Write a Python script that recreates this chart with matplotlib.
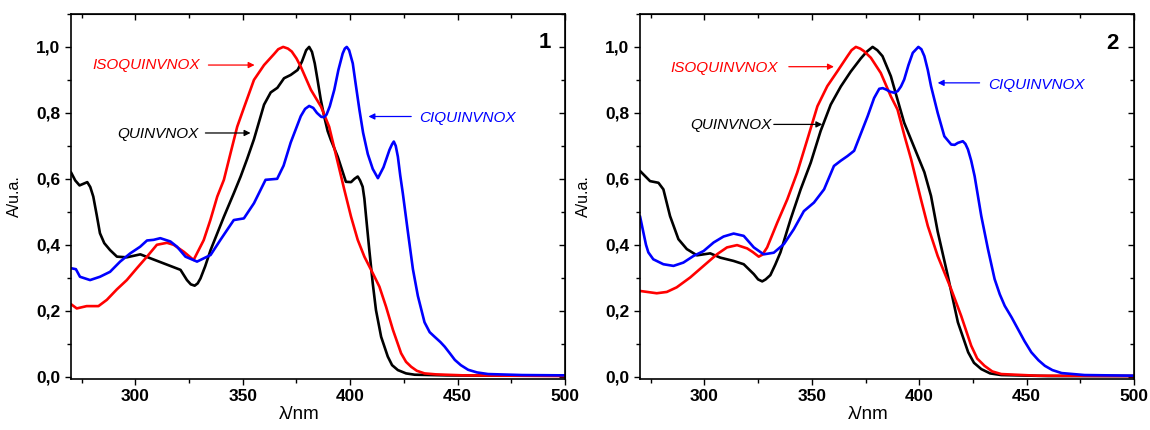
import matplotlib

matplotlib.use("Agg")
import matplotlib.pyplot as plt  # noqa: E402
from matplotlib.ticker import FuncFormatter, MultipleLocator  # noqa: E402

plt.rcParams["font.family"] = ["Liberation Sans", "DejaVu Sans"]

# ---- panel 1 ----
p1_quin_wl = [270, 272, 274, 275.8, 277.6, 279, 280.4, 282, 283.5, 285.5, 288.2, 291.4, 296,
              302.3, 307, 313, 317, 321, 324, 325.8, 327.6, 329, 330.3, 332.5, 335, 341.2, 345.8,
              349, 352, 355.2, 359.9, 363, 366.1, 369.2, 372.3, 375.5, 377.5, 379.5, 380.9,
              382.2, 383.5, 384.8, 386.3, 387.9, 389.5, 391, 394.2, 398, 400.4, 402, 403.5,
              404.6, 405.8, 406.6, 407.4, 408.9, 410.5, 412, 414.4, 417.5, 419.5, 422.2, 426,
              430, 445, 470, 500]
p1_quin_a = [0.62, 0.595, 0.58, 0.585, 0.59, 0.575, 0.546, 0.49, 0.435, 0.405, 0.384, 0.364,
             0.362, 0.371, 0.359, 0.344, 0.334, 0.324, 0.293, 0.28, 0.276, 0.283, 0.298, 0.335,
             0.384, 0.485, 0.556, 0.607, 0.66, 0.72, 0.825, 0.862, 0.876, 0.905, 0.915, 0.93,
             0.955, 0.99, 1.0, 0.985, 0.95, 0.9, 0.84, 0.789, 0.745, 0.718, 0.667, 0.591, 0.59,
             0.6, 0.607, 0.595, 0.576, 0.54, 0.485, 0.384, 0.283, 0.202, 0.121, 0.061, 0.035,
             0.02, 0.01, 0.006, 0.004, 0.003, 0.003]

p1_iso_wl = [270, 272.7, 277.3, 282.8, 286.7, 291.4, 296, 300.7, 305.4, 310, 314.7, 317.8, 322.5,
             327.1, 331.8, 334.9, 338.1, 341.2, 344.3, 347.4, 350.5, 355.2, 359.9, 364.5, 366.5,
             368.8, 371, 372.8, 375, 377, 381.7, 386.4, 390.2, 394.2, 397.3, 400.4, 403.5, 406.6,
             410.5, 413.6, 416.7, 419.9, 423.7, 426, 428.4, 431, 434.6, 440, 453, 500]
p1_iso_a = [0.22, 0.207, 0.214, 0.214, 0.233, 0.265, 0.293, 0.329, 0.364, 0.4, 0.406, 0.4, 0.379,
            0.354, 0.414, 0.475, 0.546, 0.597, 0.678, 0.758, 0.815, 0.9, 0.945, 0.978, 0.993, 1.0,
            0.995, 0.986, 0.965, 0.94, 0.87, 0.819, 0.758, 0.65, 0.566, 0.485, 0.415, 0.364,
            0.314, 0.273, 0.212, 0.142, 0.071, 0.045, 0.03, 0.018, 0.01, 0.007, 0.004, 0.002]

p1_cl_wl = [270, 272.3, 274.2, 278.9, 283.5, 288.2, 292.9, 297.6, 302.2, 305.4, 308.5, 311.6,
            316.3, 319.4, 323.3, 328.7, 335, 339.6, 345.8, 350.5, 355.2, 360.6, 366, 369, 372.3,
            377, 379, 380.9, 382.8, 384.5, 386.5, 387.9, 389, 390.5, 392.6, 394.5, 396.5, 397.5,
            398.4, 399.5, 401.2, 402.5, 404.3, 406, 408.2, 410.5, 412.9, 415.5, 418.3, 419.5,
            420.3, 421.2, 422.2, 423.3, 424.5, 426.9, 429.2, 431.5, 434.6, 437, 439.3, 442, 444,
            446.5, 448.7, 451.5, 454.9, 459, 464.2, 480, 500]
p1_cl_a = [0.329, 0.326, 0.303, 0.293, 0.303, 0.318, 0.349, 0.374, 0.394, 0.413, 0.415, 0.42,
           0.41, 0.394, 0.364, 0.349, 0.369, 0.415, 0.475, 0.48, 0.526, 0.597, 0.6, 0.64, 0.71,
           0.79, 0.812, 0.821, 0.815, 0.8, 0.788, 0.787, 0.795, 0.82, 0.87, 0.93, 0.98, 0.995,
           1.0, 0.99, 0.95, 0.89, 0.809, 0.74, 0.675, 0.63, 0.602, 0.635, 0.688, 0.705, 0.713,
           0.7, 0.667, 0.61, 0.556, 0.437, 0.326, 0.245, 0.165, 0.135, 0.121, 0.105, 0.091,
           0.07, 0.051, 0.035, 0.021, 0.013, 0.008, 0.005, 0.004]

# ---- panel 2 ----
p2_quin_wl = [270, 274.7, 278.6, 280.9, 284, 287.9, 291.8, 296.5, 302.7, 307.4, 313.6, 318.3,
              323, 325, 326.9, 328.5, 330.7, 333, 335.4, 340.1, 344.8, 349.5, 354.1, 358.8,
              363.5, 368.1, 372.8, 375.5, 378.3, 380.5, 382.9, 386.8, 389.9, 393, 397.7, 402.4,
              405.5, 408.6, 413.3, 418, 422.8, 425.5, 428.9, 433, 438.2, 460, 500]
p2_quin_a = [0.624, 0.593, 0.588, 0.568, 0.487, 0.417, 0.387, 0.368, 0.374, 0.361, 0.351, 0.341,
             0.311, 0.295, 0.289, 0.295, 0.308, 0.34, 0.377, 0.477, 0.568, 0.649, 0.745, 0.825,
             0.88, 0.925, 0.965, 0.985, 1.0, 0.99, 0.972, 0.911, 0.84, 0.77, 0.695, 0.62, 0.548,
             0.44, 0.306, 0.165, 0.074, 0.042, 0.023, 0.01, 0.005, 0.002, 0.002]

p2_iso_wl = [270, 277.8, 282.5, 287.1, 293.4, 299.6, 305.8, 310.5, 315.2, 319.9, 322.5, 325.3,
             327, 329.2, 333.9, 338.6, 343.2, 347.9, 352.6, 357.2, 361.9, 366.6, 368.5, 370.5,
             372.5, 374.3, 377.5, 382.1, 386.8, 389.9, 393.2, 396.2, 400.8, 404, 408.6, 414.9,
             419.5, 424.2, 427, 430.4, 434, 438.2, 455, 500]
p2_iso_a = [0.26, 0.253, 0.257, 0.271, 0.301, 0.336, 0.371, 0.392, 0.399, 0.389, 0.378, 0.364,
            0.37, 0.392, 0.467, 0.538, 0.619, 0.719, 0.82, 0.881, 0.926, 0.972, 0.99, 1.0, 0.995,
            0.987, 0.967, 0.921, 0.85, 0.81, 0.729, 0.66, 0.538, 0.457, 0.366, 0.265, 0.185,
            0.094, 0.055, 0.033, 0.016, 0.008, 0.003, 0.002]

p2_cl_wl = [270, 271.6, 272.8, 273.9, 276.2, 280.9, 285.6, 290.2, 294.9, 299.6, 304.3, 308.9,
            313.6, 318.3, 323, 327.6, 332.3, 337, 341.6, 346.3, 351, 355.7, 360.3, 363.5, 366.6,
            369.7, 373, 376, 379, 381.4, 383, 384.5, 386.5, 388.4, 390, 391.5, 393, 395, 397,
            399.6, 401, 402.4, 404, 405.5, 408.6, 411.7, 414.9, 416.5, 418, 420.3, 421.5, 422.7,
            424.2, 425.8, 428.9, 432, 435.1, 437.5, 439.8, 443, 446, 449, 452.2, 455.5, 458.5,
            462, 466.3, 477, 500]
p2_cl_a = [0.487, 0.437, 0.4, 0.377, 0.356, 0.341, 0.336, 0.346, 0.366, 0.381, 0.407, 0.425,
           0.434, 0.427, 0.392, 0.371, 0.376, 0.402, 0.447, 0.502, 0.528, 0.568, 0.639, 0.655,
           0.669, 0.685, 0.74, 0.79, 0.845, 0.873, 0.875, 0.871, 0.864, 0.861, 0.866, 0.88,
           0.901, 0.945, 0.982, 1.0, 0.993, 0.972, 0.93, 0.881, 0.8, 0.729, 0.704, 0.703, 0.709,
           0.714, 0.706, 0.689, 0.655, 0.608, 0.487, 0.387, 0.296, 0.25, 0.215, 0.18, 0.144,
           0.108, 0.074, 0.05, 0.033, 0.02, 0.011, 0.005, 0.003]

RED = "#ff0000"
BLUE = "#0000ff"
BLACK = "#000000"

panels = [
    dict(quin=(p1_quin_wl, p1_quin_a), iso=(p1_iso_wl, p1_iso_a), cl=(p1_cl_wl, p1_cl_a),
         tag="1", tag_xy=(490.6, 1.012),
         iso_txt=(279.8, 0.945), iso_arr=((334, 0.945), (355.5, 0.945)),
         quin_txt=(329.3, 0.735), quin_arr=((332.6, 0.739), (353.6, 0.739)),
         cl_txt=(432.1, 0.785), cl_arr=((428.4, 0.789), (408.5, 0.789))),
    dict(quin=(p2_quin_wl, p2_quin_a), iso=(p2_iso_wl, p2_iso_a), cl=(p2_cl_wl, p2_cl_a),
         tag="2", tag_xy=(489.9, 1.010),
         iso_txt=(284.0, 0.937), iso_arr=((339.3, 0.94), (360.3, 0.94)),
         quin_txt=(331.0, 0.762), quin_arr=((332.3, 0.765), (354.9, 0.765)),
         cl_txt=(432.0, 0.886), cl_arr=((428.1, 0.891), (408.6, 0.891))),
]

fig = plt.figure(figsize=(11.5, 4.3), dpi=100)
axes = [fig.add_axes([0.0617, 0.1186, 0.4296, 0.849]),
        fig.add_axes([0.5565, 0.1186, 0.4296, 0.849])]

comma = FuncFormatter(lambda v, _: f"{v:.1f}".replace(".", ","))
line_kw = dict(lw=1.9, solid_joinstyle="round", solid_capstyle="round")

for ax, p in zip(axes, panels):
    ax.plot(*p["quin"], color=BLACK, **line_kw)
    ax.plot(*p["iso"], color=RED, **line_kw)
    ax.plot(*p["cl"], color=BLUE, **line_kw)

    ax.set_xlim(270, 500)
    ax.set_ylim(-0.007, 1.1)
    ax.xaxis.set_major_locator(MultipleLocator(50))
    ax.xaxis.set_minor_locator(MultipleLocator(25))
    ax.yaxis.set_major_locator(MultipleLocator(0.2))
    ax.yaxis.set_minor_locator(MultipleLocator(0.1))
    ax.yaxis.set_major_formatter(comma)

    ax.tick_params(which="both", direction="out", top=False, right=False, width=1.0)
    ax.tick_params(which="major", length=4.5, labelsize=12.5, pad=3)
    ax.tick_params(which="minor", length=3)
    for lab in ax.get_xticklabels() + ax.get_yticklabels():
        lab.set_fontweight("bold")
    # inward mirrored ticks on top / right
    sec_x = ax.secondary_xaxis("top")
    sec_x.xaxis.set_major_locator(MultipleLocator(50))
    sec_x.xaxis.set_minor_locator(MultipleLocator(25))
    sec_x.tick_params(which="both", direction="in", labeltop=False, width=1.0)
    sec_x.tick_params(which="major", length=4.5)
    sec_x.tick_params(which="minor", length=3)
    sec_y = ax.secondary_yaxis("right")
    sec_y.yaxis.set_major_locator(MultipleLocator(0.2))
    sec_y.yaxis.set_minor_locator(MultipleLocator(0.1))
    sec_y.tick_params(which="both", direction="in", labelright=False, width=1.0)
    sec_y.tick_params(which="major", length=4.5)
    sec_y.tick_params(which="minor", length=3)
    for s in ax.spines.values():
        s.set_linewidth(1.2)

    ax.set_xlabel("\u03bb/nm", fontsize=13.5, x=0.462, labelpad=1)
    ax.set_ylabel("A/u.a.", fontsize=11.5, labelpad=10)

    ax.text(*p["tag_xy"], p["tag"], fontsize=16, fontweight="bold", ha="center", va="center")

    ax.text(*p["iso_txt"], "ISOQUINVNOX", color=RED, style="italic", fontsize=11,
            ha="left", va="center")
    ax.text(*p["quin_txt"], "QUINVNOX", color=BLACK, style="italic", fontsize=11,
            ha="right", va="center")
    ax.text(*p["cl_txt"], "CIQUINVNOX", color=BLUE, style="italic", fontsize=11,
            ha="left", va="center")
    for key, col in (("iso_arr", RED), ("quin_arr", BLACK), ("cl_arr", BLUE)):
        start, end = p[key]
        ax.annotate("", xy=end, xytext=start,
                    arrowprops=dict(arrowstyle="-|>", color=col, lw=0.9, mutation_scale=9,
                                    shrinkA=0, shrinkB=0))

fig.savefig("out.png", dpi=100)
